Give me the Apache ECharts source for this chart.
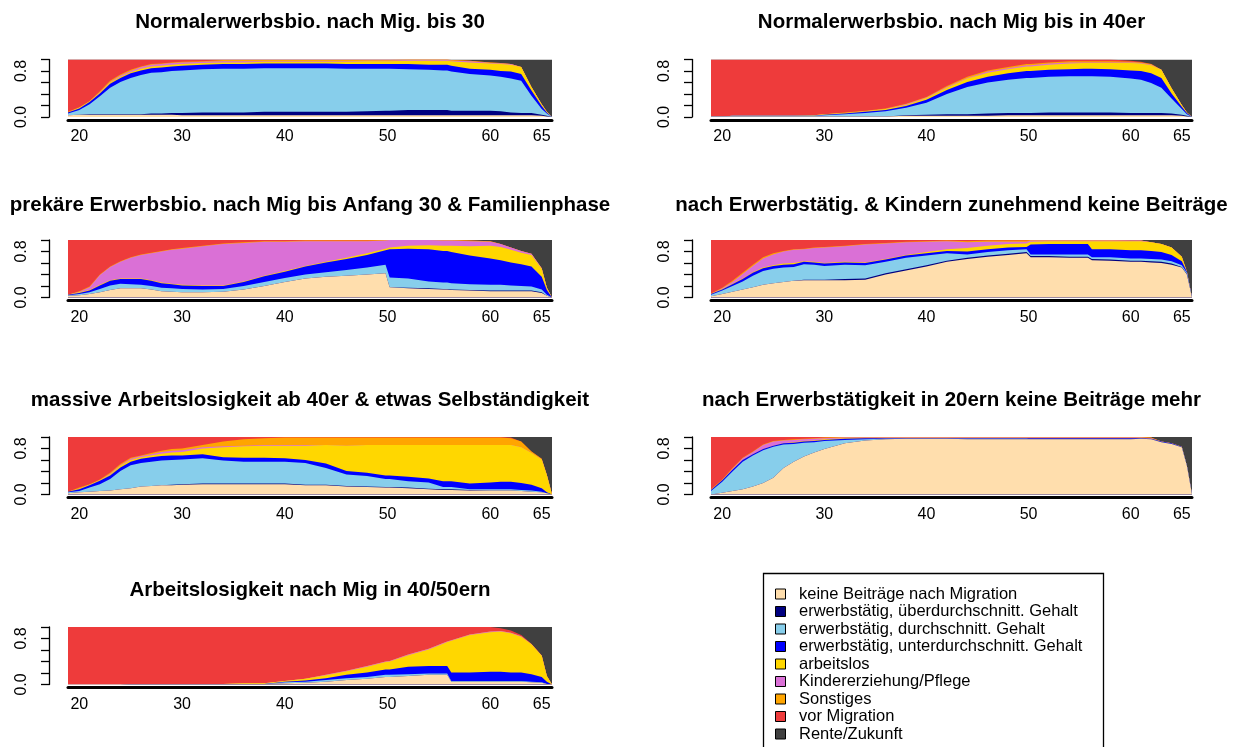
<!DOCTYPE html>
<html><head><meta charset="utf-8">
<script src="https://cdn.jsdelivr.net/npm/echarts@6/dist/echarts.min.js"></script>
<style>html,body{margin:0;padding:0;background:#fff}#c{width:1239px;height:747px}</style>
</head><body><div id="c"></div>
<script>
// ages (sequence positions) at which the state shares were read
const ages = [18.9,20,21,22,23,24,25,26,27,28,29,30,32,34,36,38,40,42,44,46,48,49.8,50.2,52,54,55.4,55.8,56.2,58,60,61,62,63,64,65,65.5,66];
const stateNames = ["keine Beiträge nach Migration","erwerbstätig, überdurchschnitt. Gehalt","erwerbstätig, durchschnitt. Gehalt","erwerbstätig, unterdurchschnitt. Gehalt","arbeitslos","Kindererziehung/Pflege","Sonstiges","vor Migration","Rente/Zukunft"];
const stateColors = ["#FFDEAD","#000080","#87CEEB","#0000FF","#FFD700","#DA70D6","#FFA500","#EE3B3B","#404040"];
const xTickValues = [20,30,40,50,60,65];
const yLabelValues = [0,0.8];
const panelTitles = ["Normalerwerbsbio. nach Mig. bis 30","Normalerwerbsbio. nach Mig bis in 40er","prekäre Erwerbsbio. nach Mig bis Anfang 30 & Familienphase","nach Erwerbstätig. & Kindern zunehmend keine Beiträge","massive Arbeitslosigkeit ab 40er & etwas Selbständigkeit","nach Erwerbstätigkeit in 20ern keine Beiträge mehr","Arbeitslosigkeit nach Mig in 40/50ern"];

// shares in percent, one row per age, columns in stateNames order
const normalBis30 = [
[3,0,3,2,0,0,1,91,0],[4,0,8,3,1,0,1,83,0],[4,1,17,4,1,0,1,72,0],[4,1,31,5,1,1,2,55,0],[4,1,46,7,2,1,2,37,0],
[4,1,56,7,2,2,2,26,0],[4,1,63,8,2,2,2,18,0],[4,1,68,8,3,3,1,12,0],[4,2,71,8,3,3,1,8,0],[4,2,72,8,3,3,1,7,0],
[4,3,73,8,3,3,1,5,0],[3,4,74,8,3,3,1,4,0],[3,5,75,8,3,2,1,3,0],[3,5,76,8,3,2,2,1,0],[3,5,76,8,3,2,2,1,0],
[3,6,76,8,3,1,2,1,0],[3,6,76,8,3,1,2,1,0],[3,6,76,8,3,1,2,1,0],[3,6,76,8,3,1,2,1,0],[3,6,75,8,4,1,2,1,0],
[3,7,74,8,5,1,1,1,0],[3,8,73,8,5,1,1,1,0],[3,8,73,8,5,1,1,1,0],[3,9,71,9,6,1,1,0,0],[3,9,70,9,7,1,1,0,0],
[3,9,69,10,7,1,1,0,0],[3,9,69,10,7,1,1,0,0],[3,8,68,10,8,1,1,0,1],[3,8,64,9,11,2,1,0,2],[3,8,61,10,11,1,1,0,5],
[3,7,60,10,12,1,1,0,6],[3,5,59,12,12,1,0,0,8],[3,4,56,12,12,0,0,0,13],[3,4,30,9,6,0,0,0,48],[2,2,10,5,3,0,0,0,78],
[1,1,4,2,1,0,0,0,91],[0,0,0,0,0,0,0,0,100]];

const normalBis40er = [
[1,0,0,0,0,0,0,99,0],[1,0,0,0,0,0,0,99,0],[1,0,1,0,0,0,0,98,0],[1,0,1,0,0,0,0,98,0],[1,0,1,0,0,0,0,98,0],
[1,0,1,0,0,0,0,98,0],[1,0,1,0,0,0,0,98,0],[1,0,1,0,0,0,0,98,0],[1,0,1,0,0,0,0,98,0],[1,0,1,0,0,0,1,97,0],
[1,0,1,0,1,0,0,97,0],[1,0,2,1,1,0,0,95,0],[1,0,4,1,1,0,1,92,0],[1,0,6,2,1,0,1,89,0],[1,0,9,2,2,0,1,85,0],
[2,1,13,3,2,1,1,77,0],[2,2,21,5,3,1,1,65,0],[2,3,35,7,4,1,2,46,0],[2,3,47,9,6,1,2,30,0],[2,4,54,10,7,2,2,19,0],
[3,4,58,11,7,2,2,13,0],[3,4,61,12,8,2,2,8,0],[3,4,61,12,8,2,2,8,0],[3,5,62,12,9,2,2,5,0],[3,5,63,12,10,2,2,3,0],
[3,5,63,13,10,1,2,3,0],[3,5,63,13,10,1,2,3,0],[3,5,63,13,10,1,2,3,0],[3,5,62,13,11,1,2,3,0],[3,4,60,14,13,1,1,2,2],
[3,4,58,15,13,1,1,1,4],[3,4,52,17,14,1,1,0,8],[3,4,44,17,14,0,0,0,18],[3,3,26,9,9,0,0,0,50],[2,2,10,4,3,0,0,0,79],
[1,1,3,2,1,0,0,0,92],[0,0,0,0,0,0,0,0,100]];

const prekaerFamilie = [
[3,0,1,1,0,0,0,95,0],[4,0,2,2,1,1,1,89,0],[6,0,3,3,1,5,1,81,0],[9,0,6,6,1,17,1,60,0],[13,0,8,8,1,23,1,46,0],
[16,0,8,8,1,29,1,37,0],[16,0,7,9,1,36,1,30,0],[16,0,6,10,1,41,1,25,0],[14,0,6,9,1,47,1,22,0],[11,0,6,8,1,54,1,19,0],
[10,0,6,7,1,59,1,16,0],[9,0,6,6,1,63,1,14,0],[9,0,5,6,1,68,1,10,0],[10,0,5,5,1,72,1,6,0],[14,0,6,7,1,67,1,4,0],
[20,0,7,10,1,59,1,2,0],[27,0,7,11,1,51,1,2,0],[33,0,7,14,1,43,1,1,0],[36,0,8,17,1,36,1,1,0],[38,0,10,19,2,29,1,1,0],
[40,0,12,22,3,21,1,1,0],[42,0,15,25,3,14,1,0,0],[18,0,17,49,3,13,0,0,0],[16,1,16,52,5,10,0,0,0],[15,1,12,56,7,9,0,0,0],
[14,1,11,55,9,9,1,0,0],[14,1,11,55,9,9,1,0,0],[13,1,11,54,11,9,1,0,0],[12,1,10,50,16,9,1,0,1],[11,1,10,46,22,7,1,0,2],
[11,1,10,43,23,5,0,0,7],[11,1,9,40,22,4,0,0,13],[11,1,8,38,20,3,0,0,19],[11,1,7,35,20,2,0,0,24],[8,1,5,22,14,1,0,0,49],
[3,0,2,8,4,0,0,0,83],[0,0,0,0,0,0,0,0,100]];

const kinderKeineBeitraege = [
[2,0,3,1,0,0,1,93,0],[6,0,6,2,1,1,1,83,0],[10,0,10,3,1,3,2,71,0],[14,0,14,4,1,8,2,57,0],[18,0,20,5,1,11,2,43,0],
[22,0,24,5,1,16,2,30,0],[25,0,25,5,1,19,2,23,0],[27,0,25,5,2,21,1,19,0],[29,0,24,5,2,23,1,16,0],[30,1,27,4,1,21,1,15,0],
[30,1,26,4,1,24,1,13,0],[30,1,24,4,1,27,1,12,0],[30,2,25,4,1,27,1,10,0],[31,2,23,4,1,31,1,7,0],[40,2,20,4,1,27,1,5,0],
[47,2,20,4,1,22,1,3,0],[54,2,17,4,2,18,1,2,0],[62,2,13,4,3,14,1,1,0],[67,2,6,5,6,10,2,2,0],[71,2,6,5,6,7,2,1,0],
[74,2,6,5,6,4,2,1,0],[77,2,5,4,6,3,2,1,0],[70,2,3,17,5,2,1,0,0],[70,2,3,18,5,1,1,0,0],[69,2,4,18,5,1,1,0,0],
[69,2,4,18,5,1,1,0,0],[69,2,4,18,5,1,1,0,0],[65,2,3,14,14,1,1,0,0],[64,2,4,14,14,1,1,0,0],[62,2,4,14,16,1,0,0,1],
[62,2,4,14,16,1,0,0,1],[61,2,4,14,15,0,0,0,4],[60,2,4,13,14,0,0,0,7],[57,2,4,11,13,0,0,0,13],[52,1,3,7,8,0,0,0,29],
[40,1,2,2,0,0,0,0,55],[0,0,0,0,0,0,0,0,100]];

const arbeitslosSelbst = [
[2,0,2,1,0,0,0,95,0],[4,0,2,3,1,0,2,88,0],[5,0,7,4,1,0,1,82,0],[6,0,12,6,1,0,1,74,0],[7,0,20,6,2,1,2,62,0],
[9,0,32,6,3,1,2,47,0],[11,0,40,6,3,2,2,36,0],[14,0,41,7,3,2,1,32,0],[15,0,42,8,3,2,2,28,0],[16,0,43,8,4,3,2,24,0],
[16,1,43,8,5,3,3,21,0],[17,1,43,7,6,3,3,20,0],[18,1,44,7,10,2,4,14,0],[18,1,40,6,17,2,8,8,0],[18,1,38,7,20,1,11,4,0],
[18,1,38,7,21,1,12,2,0],[18,1,38,6,22,1,13,1,0],[16,1,38,5,25,1,13,1,0],[16,1,29,8,32,0,13,1,0],[14,1,20,6,44,0,14,1,0],
[13,1,18,6,48,0,13,1,0],[12,1,14,6,53,0,13,1,0],[12,1,14,6,53,0,13,1,0],[11,1,11,8,55,0,13,1,0],[9,1,11,7,58,0,13,1,0],
[8,1,4,10,63,0,13,1,0],[8,1,4,10,63,0,13,1,0],[8,1,4,10,63,0,13,1,0],[7,1,1,10,67,0,13,1,0],[7,0,2,12,65,0,13,1,0],
[7,0,2,13,64,0,13,1,0],[7,0,2,13,64,0,12,1,1],[6,0,2,12,62,0,10,0,8],[5,0,2,10,55,0,3,0,25],[4,0,1,6,50,0,1,0,38],
[2,0,0,2,30,0,0,0,66],[0,0,0,0,0,0,0,0,100]];

const keineBeitraege20er = [
[0,0,6,2,0,0,1,91,0],[3,0,19,3,0,0,1,74,0],[6,0,34,3,0,2,1,54,0],[9,0,48,3,0,3,1,36,0],[14,0,54,2,0,4,1,25,0],
[20,0,57,2,0,7,1,13,0],[29,0,54,2,0,7,1,7,0],[46,0,41,2,0,5,1,5,0],[57,0,31,2,1,4,1,4,0],[66,0,24,2,1,3,1,3,0],
[73,0,18,2,1,3,1,2,0],[79,0,14,2,1,2,1,1,0],[89,0,6,2,1,1,1,0,0],[94,0,2,2,0,1,1,0,0],[96,0,1,1,0,1,1,0,0],
[97,0,0,1,0,1,1,0,0],[97,0,0,1,0,1,1,0,0],[97,0,0,1,0,1,1,0,0],[96,0,1,1,0,1,1,0,0],[96,0,1,1,0,1,1,0,0],
[96,0,1,1,0,1,1,0,0],[96,0,1,1,0,1,1,0,0],[96,0,0,2,0,1,1,0,0],[96,0,0,2,0,1,1,0,0],[96,0,0,2,0,1,1,0,0],
[96,0,0,2,0,1,1,0,0],[96,0,0,2,0,1,1,0,0],[96,0,0,2,0,1,1,0,0],[96,0,0,2,0,1,1,0,0],[96,0,0,2,0,1,1,0,0],
[97,0,0,1,0,1,1,0,0],[96,0,0,1,0,1,1,0,1],[91,0,0,1,0,0,0,0,8],[88,0,0,1,0,0,0,0,11],[82,0,0,1,0,0,0,0,17],
[50,0,0,0,0,0,0,0,50],[0,0,0,0,0,0,0,0,100]];

const arbeitslos4050 = [
[0,0,0,0,0,0,0,100,0],[0,0,0,0,0,0,0,100,0],[0,0,0,0,0,0,0,100,0],[0,0,0,0,0,0,0,100,0],[0,0,0,0,0,0,0,100,0],
[0,0,0,0,0,0,0,100,0],[1,0,0,0,0,0,0,99,0],[1,0,0,0,0,0,0,99,0],[1,0,0,0,0,0,0,99,0],[1,0,0,0,0,0,0,99,0],
[1,0,0,0,0,0,0,99,0],[1,0,0,0,0,0,0,99,0],[1,0,0,0,0,0,0,99,0],[1,0,0,0,0,0,0,99,0],[1,0,0,0,1,0,0,98,0],
[1,0,0,0,1,0,0,98,0],[2,0,2,1,1,0,0,94,0],[3,0,2,2,3,0,0,90,0],[5,0,3,3,5,1,0,83,0],[8,0,3,6,6,1,0,76,0],
[10,0,3,8,10,1,0,68,0],[13,0,4,9,13,1,0,60,0],[13,0,4,9,14,1,0,59,0],[15,0,3,13,20,1,0,48,0],[17,0,2,13,29,1,0,38,0],
[17,0,2,13,39,1,0,28,0],[17,0,2,13,42,1,0,25,0],[5,0,1,15,55,1,0,23,0],[5,0,1,15,65,1,0,13,0],[5,0,1,16,69,1,0,8,0],
[5,0,1,16,70,1,0,5,2],[5,0,1,15,68,1,0,4,6],[5,0,1,15,62,1,0,2,14],[4,0,1,13,52,0,0,1,29],[3,0,1,9,37,0,0,1,49],
[1,0,0,4,10,0,0,0,85],[0,0,0,0,0,0,0,0,100]];

const panelTables = [normalBis30, normalBis40er, prekaerFamilie, kinderKeineBeitraege, arbeitslosSelbst, keineBeitraege20er, arbeitslos4050];

// layout
const colLeft = [68, 711], colWidth = [484, 481];
const rowTop = [59.5, 240, 437, 627], plotH = 57.5;
const titleY = [22, 205, 400, 590];
const FONT = '"Liberation Sans", Arial, sans-serif';

const grids = [], xAxes = [], yAxes = [], series = [], graphics = [];
panelTables.forEach((tbl, p) => {
  const col = p % 2, row = Math.floor(p / 2);
  grids.push({left: colLeft[col], top: rowTop[row], width: colWidth[col], height: plotH, containLabel: false});
  xAxes.push({type:'value', gridIndex:p, min:18.9, max:66, offset:3,
    axisLine:{show:true, onZero:false, lineStyle:{color:'#000', width:3}},
    axisTick:{show:false}, splitLine:{show:false},
    axisLabel:{customValues:xTickValues, margin:9, fontSize:16, color:'#000', fontFamily:FONT}});
  yAxes.push({type:'value', gridIndex:p, min:0, max:1, interval:0.2, offset:19,
    axisLine:{show:true, lineStyle:{color:'#000', width:1.3}},
    axisTick:{show:true, length:8, lineStyle:{color:'#000', width:1.3}},
    splitLine:{show:false},
    axisLabel:{customValues:yLabelValues, formatter:v=>v.toFixed(1), rotate:90, margin:19, fontSize:16, color:'#000', fontFamily:FONT}});
  // stacked distribution: each state's band is drawn as the area up to its running total,
  // upper states first so that lower states paint over them
  const tops = tbl.map(r => { let acc = 0; return r.map(v => (acc += v) / 100); });
  for (let s = stateNames.length - 1; s >= 0; s--) {
    series.push({type:'line', name:stateNames[s], xAxisIndex:p, yAxisIndex:p,
      symbol:'none', silent:true, animation:false, color:stateColors[s],
      lineStyle:{width:0}, areaStyle:{color:stateColors[s], opacity:1, origin:'start'},
      data: ages.map((a,i)=>[a, tops[i][s]])});
  }
  graphics.push({type:'text', x: colLeft[col] + colWidth[col]/2, y: titleY[row],
    style:{text: panelTitles[p], font:'bold 20.5px '+FONT, fill:'#000', textAlign:'center', textVerticalAlign:'middle'}});
});

// legend box
graphics.push({type:'rect', shape:{x:763.5, y:573.5, width:340, height:190}, style:{fill:'none', stroke:'#000', lineWidth:1.3}});
stateNames.forEach((name, s) => {
  const yc = 594 + s*17.5;
  graphics.push({type:'rect', shape:{x:775.5, y:yc-5, width:10, height:10}, style:{fill:stateColors[s], stroke:'#000', lineWidth:1}});
  graphics.push({type:'text', x:799, y:yc, style:{text:name, font:'16.5px '+FONT, fill:'#000', textAlign:'left', textVerticalAlign:'middle'}});
});

const chart = echarts.init(document.getElementById('c'), null, {renderer:'canvas'});
chart.setOption({animation:false, backgroundColor:'#fff', grid:grids, xAxis:xAxes, yAxis:yAxes, series, graphic:graphics});
</script></body></html>
